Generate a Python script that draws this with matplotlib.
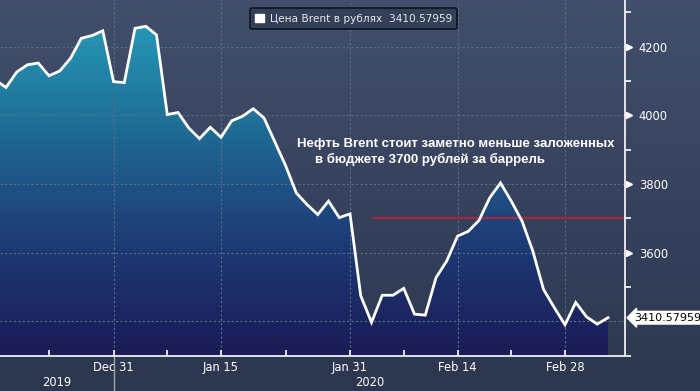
import numpy as np
import pandas as pd
import matplotlib
matplotlib.use("Agg")
import matplotlib.pyplot as plt
from matplotlib.colors import LinearSegmentedColormap
from matplotlib.patches import Patch

# data: Brent price in rubles, trading days
dates = pd.bdate_range("2019-12-16", "2020-03-05")
dates = dates[dates != pd.Timestamp("2020-01-01")]
brent_rub = [4103, 4081, 4126, 4147, 4152, 4115, 4129, 4166, 4224, 4232,
             4246, 4098, 4095, 4253, 4259, 4234, 4002, 4008, 3963, 3932,
             3965, 3936, 3984, 3997, 4019, 3992, 3923, 3854, 3774, 3740,
             3711, 3750, 3702, 3713, 3474, 3397, 3476, 3476, 3496, 3421,
             3418, 3527, 3576, 3648, 3662, 3694, 3760, 3803, 3750, 3692,
             3605, 3493, 3440, 3390, 3455, 3413, 3392, 3410.57959]
budget_level = 3700
budget_from = "2020-02-04"
last_label = "3410.57959"
major_dates = ["2019-12-31", "2020-01-15", "2020-01-31", "2020-02-14", "2020-02-28"]
major_labels = ["Dec 31", "Jan 15", "Jan 31", "Feb 14", "Feb 28"]
minor_dates = ["2019-12-23", "2020-01-08", "2020-01-23", "2020-02-07", "2020-02-21"]
y_major = [3400, 3600, 3800, 4000, 4200]
y_minor = [3300, 3500, 3700, 3900, 4100, 4300]

x = np.arange(len(dates))
def pos(d):
    return int(np.where(dates == pd.Timestamp(d))[0][0])

fig = plt.figure(figsize=(7, 3.91), dpi=100)

# background gradient over whole figure
bg = fig.add_axes([0, 0, 1, 1], zorder=-5)
bg_cmap = LinearSegmentedColormap.from_list("bg", ["#2c374f", "#424f6c"])
bg.imshow(np.linspace(0, 1, 256).reshape(-1, 1), cmap=bg_cmap, aspect="auto",
          origin="lower", extent=[0, 1, 0, 1])
bg.axis("off")

ax = fig.add_axes([0, 0.0903, 625 / 700, 1 - 0.0903])
ax.patch.set_alpha(0)

xmin, xmax = 0.44, 58.58
ymin, ymax = 3302.7, 4335.6

# gradient fill under the curve
poly = ax.fill_between(x, brent_rub, ymin - 50, facecolor="none", edgecolor="none")
fill_cmap = LinearSegmentedColormap.from_list(
    "fill", [(0, "#1b1b57"), (0.35, "#1e3f78"), (0.65, "#1f6e97"), (1, "#27a2be")])
im = ax.imshow(np.linspace(0, 1, 256).reshape(-1, 1), cmap=fill_cmap, aspect="auto",
               origin="lower", extent=[xmin, xmax, ymin, ymax], zorder=1)
im.set_clip_path(poly.get_paths()[0], transform=ax.transData)

ax.plot(x, brent_rub, color="white", lw=2, zorder=3, solid_joinstyle="miter")
ax.hlines(budget_level, pos(budget_from), xmax, color="#b3263a", lw=1.4, zorder=2)

ax.set_xlim(xmin, xmax)
ax.set_ylim(ymin, ymax)

# axes styling
for s in ["left", "top"]:
    ax.spines[s].set_visible(False)
for s in ["right", "bottom"]:
    ax.spines[s].set_color("white")
    ax.spines[s].set_linewidth(1.2)

ax.yaxis.tick_right()
ax.set_yticks(y_major)
ax.set_yticklabels([""] + [str(v) for v in y_major[1:]])
ax.set_yticks(y_minor, minor=True)
ax.tick_params(axis="y", which="major", length=0, pad=10, labelsize=8.3, labelcolor="white")
ax.tick_params(axis="y", which="minor", length=4, width=1.2, color="white")
# triangle markers on major ticks
ax.plot([1.006] * 4, y_major[1:], marker=">", ms=5, color="white", ls="none",
        transform=ax.get_yaxis_transform(), clip_on=False, zorder=5)

ax.set_xticks([pos(d) for d in major_dates])
ax.set_xticklabels(major_labels)
ax.set_xticks([pos(d) for d in minor_dates], minor=True)
ax.tick_params(axis="x", which="both", direction="in", length=4, width=1.2, color="white",
               labelsize=8.3, labelcolor="white", pad=4)

ax.grid(True, which="major", color="#5c6d8c", lw=0.8, ls=(0, (2, 2)), zorder=0)

# year labels and separator
sep = pos("2019-12-31")
ax.plot([sep, sep], [0, -0.12], color="#9ea4b0", lw=1,
        transform=ax.get_xaxis_transform(), clip_on=False)
ax.text((xmin + sep) / 2, -0.074, "2019", transform=ax.get_xaxis_transform(),
        ha="center", va="center", color="white", fontsize=8.3)
ax.text((sep + xmax) / 2, -0.074, "2020", transform=ax.get_xaxis_transform(),
        ha="center", va="center", color="white", fontsize=8.3)

# annotation
ax.text(297 / 625, 3915, "Нефть Brent стоит заметно меньше заложенных",
        transform=ax.get_yaxis_transform(), ha="left", va="center",
        color="white", fontsize=9.5, fontweight="bold", family="Liberation Sans")
ax.text(315 / 625, 3872, "в бюджете 3700 рублей за баррель",
        transform=ax.get_yaxis_transform(), ha="left", va="center",
        color="white", fontsize=9.5, fontweight="bold", family="Liberation Sans")

# last value tag
ax.text(1.014, brent_rub[-1], last_label, transform=ax.get_yaxis_transform(),
        ha="left", va="center", color="black", fontsize=8, clip_on=False, zorder=6,
        bbox=dict(boxstyle="larrow,pad=0.12", facecolor="white", edgecolor="white"))

# legend
leg = ax.legend([Patch(facecolor="white", edgecolor="white")],
                ["Цена Brent в рублях  " + last_label],
                loc="upper center", bbox_to_anchor=(353.5 / 625, 1 - 3 / 355.7),
                fontsize=7.6, handlelength=0.9, handleheight=0.9, handletextpad=0.5,
                borderpad=0.5, fancybox=True, facecolor="#33405a", edgecolor="#10141c",
                framealpha=1, labelcolor="#e6e6e6")
leg.get_frame().set_linewidth(1.2)

fig.savefig("out.png", dpi=100)
